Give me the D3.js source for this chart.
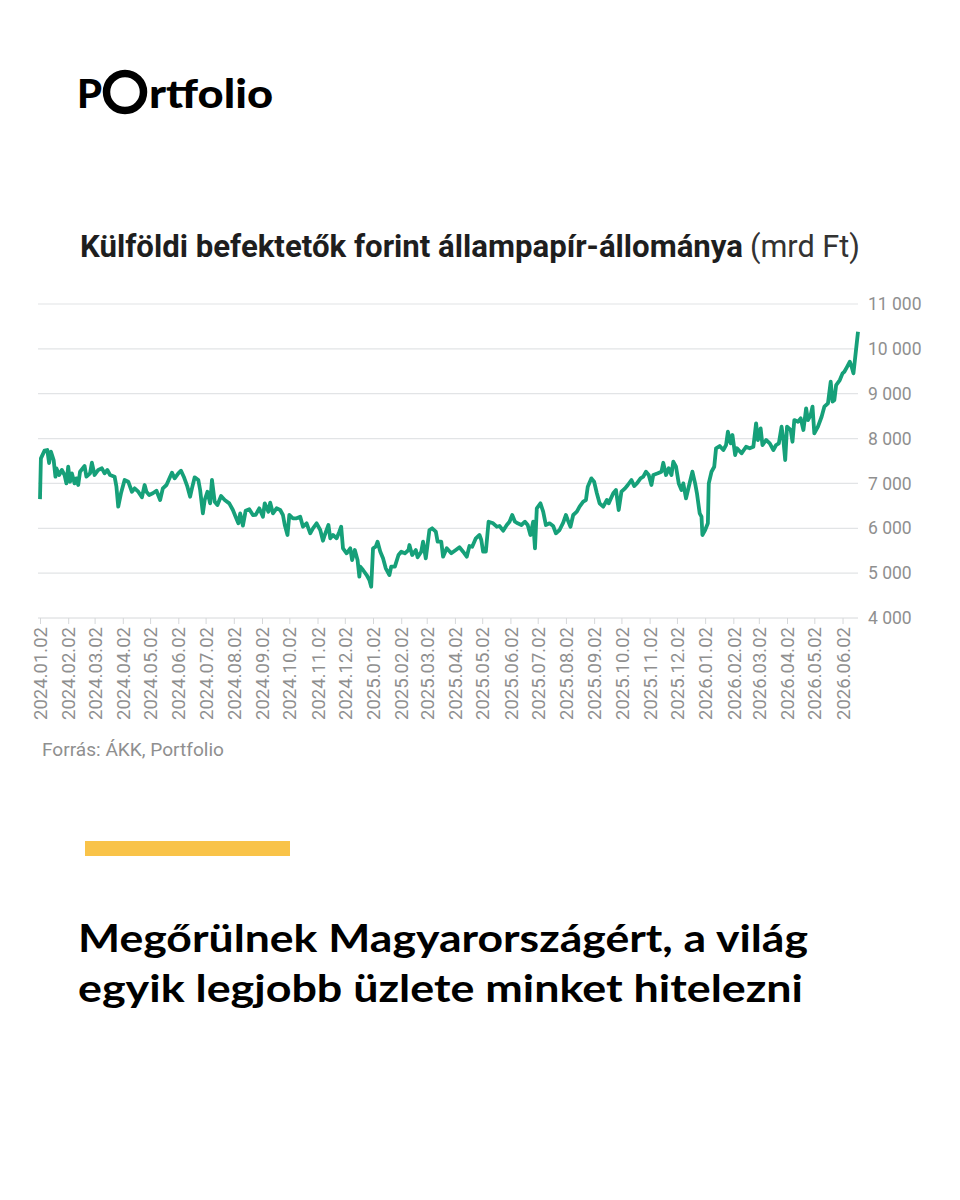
<!DOCTYPE html>
<meta charset="utf-8">
<style>
body { margin: 0; background: #fff; }
svg { display: block; }
.grid line { stroke: #e2e4e6; stroke-width: 1.2px; }
.xaxis path, .xaxis line { stroke: #d6d8da; }
.xaxis text, .yaxis text { fill: #8f8f8f; font-family: Roboto, sans-serif; }
</style>
<body>
<script src="https://cdn.jsdelivr.net/npm/d3@7"></script>
<script>
// data (mrd Ft)
var dates = [
  "2024-01-02","2024-01-03","2024-01-07","2024-01-10","2024-01-12","2024-01-14","2024-01-17","2024-01-19","2024-01-20","2024-01-23",
  "2024-01-26","2024-01-29","2024-01-31","2024-02-02","2024-02-04","2024-02-06","2024-02-09","2024-02-11","2024-02-13","2024-02-15",
  "2024-02-20","2024-02-22","2024-02-26","2024-02-28","2024-03-02","2024-03-06","2024-03-10","2024-03-13","2024-03-16","2024-03-19",
  "2024-03-24","2024-03-26","2024-03-28","2024-03-31","2024-04-04","2024-04-08","2024-04-12","2024-04-15","2024-04-19","2024-04-23",
  "2024-04-26","2024-04-28","2024-05-01","2024-05-05","2024-05-09","2024-05-13","2024-05-16","2024-05-20","2024-05-24","2024-05-26",
  "2024-05-29","2024-06-02","2024-06-05","2024-06-08","2024-06-12","2024-06-15","2024-06-17","2024-06-20","2024-06-24","2024-06-26",
  "2024-06-29","2024-07-01","2024-07-04","2024-07-07","2024-07-09","2024-07-12","2024-07-15","2024-07-19","2024-07-23","2024-07-28",
  "2024-08-01","2024-08-04","2024-08-07","2024-08-09","2024-08-12","2024-08-15","2024-08-19","2024-08-23","2024-08-26","2024-08-30",
  "2024-09-03","2024-09-05","2024-09-09","2024-09-11","2024-09-14","2024-09-18","2024-09-22","2024-09-25","2024-09-27","2024-09-30",
  "2024-10-02","2024-10-06","2024-10-10","2024-10-14","2024-10-17","2024-10-21","2024-10-25","2024-10-28","2024-11-01","2024-11-05",
  "2024-11-08","2024-11-10","2024-11-14","2024-11-16","2024-11-19","2024-11-23","2024-11-26","2024-11-28","2024-11-30","2024-12-04",
  "2024-12-08","2024-12-10","2024-12-13","2024-12-16","2024-12-18","2024-12-19","2024-12-22","2024-12-26","2024-12-29","2024-12-31",
  "2025-01-02","2025-01-05","2025-01-07","2025-01-10","2025-01-13","2025-01-16","2025-01-20","2025-01-22","2025-01-26","2025-01-30",
  "2025-02-02","2025-02-06","2025-02-10","2025-02-11","2025-02-14","2025-02-18","2025-02-20","2025-02-24","2025-02-26","2025-03-01",
  "2025-03-05","2025-03-08","2025-03-12","2025-03-14","2025-03-18","2025-03-20","2025-03-24","2025-03-29","2025-04-03","2025-04-07",
  "2025-04-11","2025-04-15","2025-04-18","2025-04-21","2025-04-25","2025-04-29","2025-05-01","2025-05-03","2025-05-06","2025-05-09",
  "2025-05-14","2025-05-18","2025-05-21","2025-05-25","2025-05-29","2025-06-01","2025-06-04","2025-06-07","2025-06-10","2025-06-14",
  "2025-06-18","2025-06-21","2025-06-24","2025-06-27","2025-06-29","2025-07-01","2025-07-05","2025-07-08","2025-07-11","2025-07-15",
  "2025-07-19","2025-07-22","2025-07-26","2025-07-30","2025-08-02","2025-08-04","2025-08-07","2025-08-10","2025-08-14","2025-08-17",
  "2025-08-21","2025-08-24","2025-08-26","2025-08-30","2025-09-02","2025-09-05","2025-09-08","2025-09-12","2025-09-16","2025-09-18",
  "2025-09-23","2025-09-26","2025-09-29","2025-10-02","2025-10-06","2025-10-09","2025-10-13","2025-10-16","2025-10-19","2025-10-23",
  "2025-10-26","2025-10-29","2025-11-01","2025-11-04","2025-11-06","2025-11-11","2025-11-15","2025-11-17","2025-11-20","2025-11-23",
  "2025-11-26","2025-11-28","2025-12-01","2025-12-04","2025-12-07","2025-12-09","2025-12-12","2025-12-15","2025-12-19","2025-12-22",
  "2025-12-24","2025-12-27","2025-12-29","2025-12-30","2026-01-02","2026-01-05","2026-01-06","2026-01-09","2026-01-12","2026-01-14",
  "2026-01-18","2026-01-22","2026-01-25","2026-01-27","2026-01-30","2026-02-01","2026-02-04","2026-02-06","2026-02-11","2026-02-16",
  "2026-02-20","2026-02-24","2026-02-27","2026-03-01","2026-03-04","2026-03-06","2026-03-10","2026-03-14","2026-03-18","2026-03-21",
  "2026-03-24","2026-03-27","2026-03-29","2026-03-31","2026-04-02","2026-04-06","2026-04-08","2026-04-10","2026-04-14","2026-04-17",
  "2026-04-20","2026-04-23","2026-04-25","2026-04-28","2026-04-30","2026-05-02","2026-05-06","2026-05-10","2026-05-13","2026-05-17",
  "2026-05-20","2026-05-22","2026-05-24","2026-05-26","2026-05-30","2026-06-02","2026-06-04","2026-06-07","2026-06-10","2026-06-12",
  "2026-06-14","2026-06-16","2026-06-19"
];
var values = [
  6650,7560,7730,7745,7455,7707,7522,7150,7337,7188,
  7300,7188,7000,7372,7038,7225,7000,7113,6965,7261,
  7388,7150,7225,7462,7188,7300,7337,7225,7300,7188,
  7150,6927,6481,6780,7076,7038,6815,6890,6815,6690,
  6965,6815,6742,6780,6838,6630,6890,6965,7150,7240,
  7113,7225,7283,7150,6927,6704,6890,7136,7076,6853,
  6334,6630,6815,6556,7076,6593,6519,6719,6630,6556,
  6407,6258,6111,6330,6060,6390,6423,6296,6300,6445,
  6258,6556,6370,6570,6333,6445,6407,6296,6073,5850,
  6296,6222,6222,6258,6035,6111,5888,6000,6111,5962,
  5723,5850,6073,5776,5850,5776,5924,6035,5554,5442,
  5554,5293,5516,5293,4921,5144,5070,4958,4847,4698,
  5554,5589,5701,5478,5330,5108,4958,5144,5144,5404,
  5478,5442,5516,5627,5404,5516,5353,5478,5701,5330,
  5962,6000,5924,5701,5701,5367,5554,5442,5516,5576,
  5478,5367,5605,5589,5776,5850,5739,5478,5478,6147,
  6111,6035,6051,5946,6073,6147,6296,6147,6111,6073,
  6147,6073,5850,6147,5554,6445,6556,6370,6073,6111,
  6051,5888,5962,6124,6296,6185,6035,6296,6370,6481,
  6593,6630,6927,7113,7038,6780,6556,6481,6630,6556,
  6780,6853,6407,6815,6890,6965,7076,6942,7000,7113,
  7150,7261,7188,6965,7188,7225,7261,7460,7188,7337,
  7188,7484,7372,7000,6853,7000,6668,6927,7261,7000,
  6780,6334,6258,5850,5962,6111,7000,7261,7372,7783,
  7834,7745,7856,8152,7894,8079,7633,7783,7671,7818,
  7783,7818,8340,7968,8228,7856,7968,7894,7745,7856,
  7894,8265,7968,7522,8265,8191,7930,8413,8376,8451,
  8191,8674,8413,8525,8710,8117,8265,8487,8710,8785,
  9267,8822,8860,9193,9305,9454,9490,9600,9713,9600,
  9454,9824,10380
];
var yTicks = [4000, 5000, 6000, 7000, 8000, 9000, 10000, 11000];
var title = "Külföldi befektetők forint állampapír-állománya";
var titleUnit = "(mrd Ft)";
var source = "Forrás: ÁKK, Portfolio";
var headline = ["Megőrülnek Magyarországért, a világ", "egyik legjobb üzlete minket hitelezni"];

var parseDate = d3.timeParse("%Y-%m-%d");
var data = dates.map(function(d, i) { return {date: parseDate(d), value: values[i]}; });

var svg = d3.select("body").append("svg")
    .attr("width", 960)
    .attr("height", 1200);

svg.append("rect").attr("width", 960).attr("height", 1200).attr("fill", "#fff");

// logo
var logo = svg.append("g");
logo.append("text")
    .attr("x", 77).attr("y", 108)
    .attr("font-family", "Lato, sans-serif").attr("font-weight", 900)
    .attr("font-size", 39).attr("fill", "#000")
    .attr("textLength", 25).attr("lengthAdjust", "spacingAndGlyphs")
    .text("P");
logo.append("circle")
    .attr("cx", 125).attr("cy", 92).attr("r", 18.5)
    .attr("fill", "none").attr("stroke", "#000").attr("stroke-width", 7.5);
logo.append("text")
    .attr("x", 149).attr("y", 108)
    .attr("font-family", "Lato, sans-serif").attr("font-weight", 900)
    .attr("font-size", 39).attr("fill", "#000")
    .attr("textLength", 124).attr("lengthAdjust", "spacingAndGlyphs")
    .text("rtfolio");

// chart title
svg.append("text")
    .attr("x", 80).attr("y", 257)
    .attr("font-family", "Roboto, sans-serif").attr("font-weight", 700)
    .attr("font-size", 31).attr("fill", "#1e1e1e")
    .attr("textLength", 663).attr("lengthAdjust", "spacingAndGlyphs")
    .text(title);
svg.append("text")
    .attr("x", 750).attr("y", 257)
    .attr("font-family", "Roboto, sans-serif").attr("font-weight", 400)
    .attr("font-size", 31).attr("fill", "#333")
    .attr("textLength", 110).attr("lengthAdjust", "spacingAndGlyphs")
    .text(titleUnit);

// scales
var x = d3.scaleTime()
    .domain([parseDate("2024-01-02"), parseDate("2026-06-19")])
    .range([40, 858]);
var y = d3.scaleLinear()
    .domain([4000, 11000])
    .range([618, 304]);

var loc = d3.formatLocale({decimal: ",", thousands: " ", grouping: [3], currency: ["", " Ft"]});
var fmt = loc.format(",d");

// gridlines
svg.append("g")
    .attr("class", "grid")
    .selectAll("line")
    .data(yTicks.slice(1))
    .enter().append("line")
    .attr("x1", 38).attr("x2", 858)
    .attr("y1", function(d) { return y(d); })
    .attr("y2", function(d) { return y(d); });

// y labels on the right
svg.append("g")
    .attr("class", "yaxis")
    .attr("transform", "translate(858,0)")
    .call(d3.axisRight(y).tickValues(yTicks).tickFormat(fmt).tickSize(0).tickPadding(10))
    .call(function(g) { g.select(".domain").remove(); })
    .selectAll("text")
    .attr("font-size", 17.5);

// x axis with monthly ticks on the 2nd
var tickDates = d3.timeMonth.range(parseDate("2024-01-01"), parseDate("2026-06-03"))
    .map(function(d) { return d3.timeDay.offset(d, 1); });

var xAxis = svg.append("g")
    .attr("class", "xaxis")
    .attr("transform", "translate(0,618)")
    .call(d3.axisBottom(x).tickValues(tickDates).tickFormat(d3.timeFormat("%Y.%m.%d")).tickSizeInner(6).tickSizeOuter(0));
xAxis.select(".domain").attr("d", "M38,0H858");
xAxis.selectAll("text")
    .attr("font-size", 18.5)
    .attr("transform", "rotate(-90)")
    .attr("text-anchor", "end")
    .attr("x", -9)
    .attr("y", 0)
    .attr("dy", "0.36em");

// the line
var line = d3.line()
    .x(function(d) { return x(d.date); })
    .y(function(d) { return y(d.value); });

svg.append("path")
    .datum(data)
    .attr("fill", "none")
    .attr("stroke", "#16a079")
    .attr("stroke-width", 3.8)
    .attr("stroke-linejoin", "round")
    .attr("d", line);

// source
svg.append("text")
    .attr("x", 42).attr("y", 756)
    .attr("font-family", "Roboto, sans-serif")
    .attr("font-size", 18.5).attr("fill", "#8f8f8f")
    .attr("textLength", 182).attr("lengthAdjust", "spacingAndGlyphs")
    .text(source);

// yellow bar
svg.append("rect")
    .attr("x", 85).attr("y", 841)
    .attr("width", 205).attr("height", 15)
    .attr("fill", "#f9c349");

// headline
svg.selectAll(".headline")
    .data(headline)
    .enter().append("text")
    .attr("class", "headline")
    .attr("x", 78)
    .attr("y", function(d, i) { return 952 + i * 50; })
    .attr("font-family", "Lato, sans-serif").attr("font-weight", 700)
    .attr("font-size", 38).attr("fill", "#000")
    .attr("textLength", function(d, i) { return i === 0 ? 730 : 725; })
    .attr("lengthAdjust", "spacingAndGlyphs")
    .text(function(d) { return d; });
</script>
</body>
